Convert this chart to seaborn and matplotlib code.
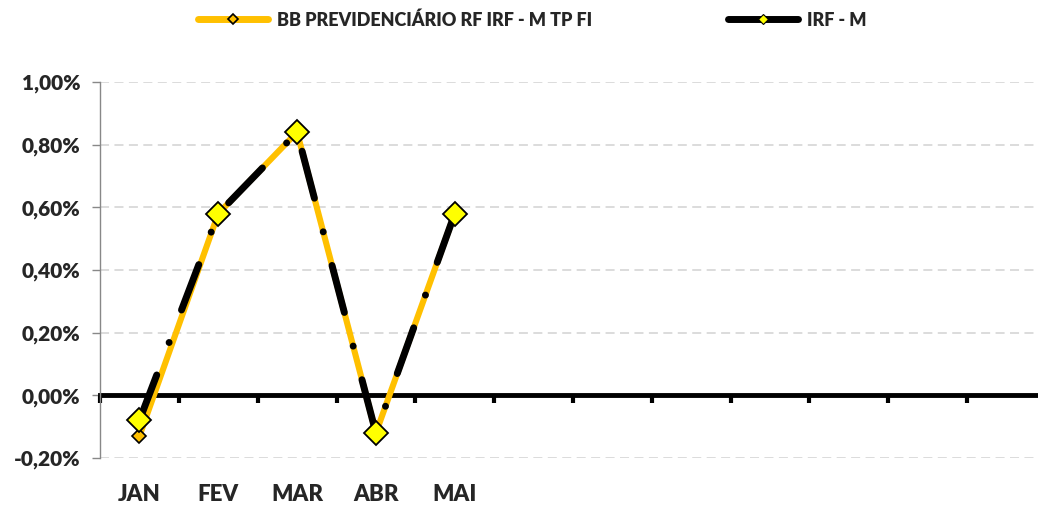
import numpy as np
import pandas as pd
import matplotlib
matplotlib.use("Agg")
import matplotlib.pyplot as plt
from matplotlib.lines import Line2D
from matplotlib.ticker import FuncFormatter, FixedLocator
import seaborn as sns

months = ["JAN", "FEV", "MAR", "ABR", "MAI"]
bb_fund = [-0.13, 0.58, 0.84, -0.12, 0.58]
irf_m = [-0.08, 0.58, 0.84, -0.12, 0.58]
n_slots = 12

df = pd.DataFrame({"pos": range(len(months)), "mes": months,
                   "bb": bb_fund, "irfm": irf_m})

sns.set_style("white")
plt.rcParams['font.family'] = ['Lato', 'DejaVu Sans']
plt.rcParams['font.weight'] = 'heavy'

orange = "#FFC000"
yellow = "#FFFF00"
fw = "heavy"

fig = plt.figure(figsize=(10.38, 5.05), dpi=100)
ax = fig.add_axes([100/1038, 47/505, 946/1038, 376/505])

# BB fund line (orange, small diamonds)
sns.lineplot(data=df, x="pos", y="bb", ax=ax, color=orange, lw=4.4,
             marker="D", markersize=7, markerfacecolor=orange,
             markeredgecolor="black", markeredgewidth=1.2, zorder=3)

# IRF-M line (black long-dash-dot, big yellow diamonds)
sns.lineplot(data=df, x="pos", y="irfm", ax=ax, color="black", lw=5,
             linestyle=(0, (7, 5, 0.01, 5)), dash_capstyle="round",
             marker="D", markersize=12, markerfacecolor=yellow,
             markeredgecolor="black", markeredgewidth=1.3, zorder=4)

ax.set_xlim(-0.5, n_slots - 0.5)
ax.set_ylim(-0.2, 1.0)
ax.set_yticks(np.arange(-0.2, 1.01, 0.2))
ax.yaxis.set_major_formatter(FuncFormatter(lambda v, p: f"{v:.2f}%".replace(".", ",")))

ax.set_xticks(range(len(months)))
ax.set_xticklabels(months)
ax.xaxis.set_minor_locator(FixedLocator(np.arange(-0.5, n_slots, 1.0)))
ax.tick_params(axis="x", which="major", bottom=True, length=0, pad=64, labelsize=16)
ax.tick_params(axis="x", which="minor", bottom=True, length=6, width=3,
               direction="out", color="black")
ax.tick_params(axis="y", left=True, length=6, width=1, color="#888888",
               labelsize=15, pad=8)
for lab in ax.get_xticklabels() + ax.get_yticklabels():
    lab.set_fontweight(fw)

ax.spines["bottom"].set_position(("data", 0))
ax.spines["bottom"].set_linewidth(3.5)
ax.spines["bottom"].set_color("black")
ax.spines["bottom"].set_zorder(2)
ax.spines["left"].set_color("#888888")
ax.spines["left"].set_linewidth(1)
ax.spines["top"].set_visible(False)
ax.spines["right"].set_visible(False)

ax.yaxis.grid(True, color="#D9D9D9", linestyle=(0, (5, 3)), linewidth=1.3)
ax.set_axisbelow(True)
ax.set_xlabel("")
ax.set_ylabel("")

handles = [
    Line2D([], [], color=orange, lw=5, marker="D", markersize=5,
           markerfacecolor=orange, markeredgecolor="black", markeredgewidth=1.2),
    Line2D([], [], color="black", lw=5, marker="D", markersize=5,
           markerfacecolor=yellow, markeredgecolor="black", markeredgewidth=0.8),
]
fig.legend(handles, ["BB PREVIDENCIÁRIO RF IRF - M TP FI", "IRF - M"],
           loc="center", bbox_to_anchor=(532/1038, 1 - 20/505), ncol=2,
           frameon=False, handlelength=3.9, handletextpad=0.5,
           columnspacing=7.5, prop={"weight": fw, "size": 13})

fig.savefig("out.png", dpi=100)
